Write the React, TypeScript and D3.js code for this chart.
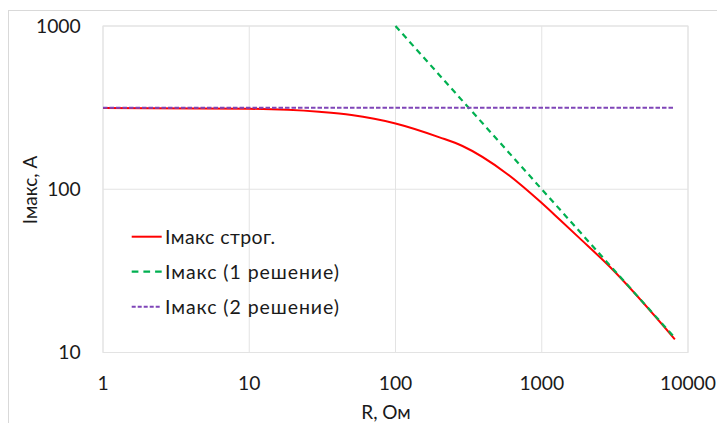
import React from "react";
import * as d3 from "d3";

// Resistance values (Ohm) and current values (A)
const strictR = [1, 10, 30, 50, 100, 200, 287, 574, 970, 1330, 1820, 2920, 8130];
const strictI = [315, 311, 298, 285, 253, 208, 184, 125, 84.3, 65, 50, 33.5, 12.05];

const sol1R = [100, 300, 1000, 3000, 8130];
const sol1I = [1000, 333, 100, 33.3, 12.3];

const sol2R = [1, 10, 100, 1000, 8130];
const sol2I = [316, 316, 316, 316, 316];

const xTicks = [1, 10, 100, 1000, 10000];
const yTicks = [10, 100, 1000];

const legendLabels = ["Імакс строг.", "Імакс (1 решение)", "Імакс (2 решение)"];
const legendWidths = [110, 174, 174];

const W = 717;
const H = 423;
const left = 103;
const right = 688;
const top = 26;
const bottom = 352.5;

const FONT = "Lato, 'Open Sans', sans-serif";

export default function App() {
  const x = d3.scaleLog().domain([1, 10000]).range([left, right]);
  const y = d3.scaleLog().domain([10, 1000]).range([bottom, top]);

  const line = d3
    .line<[number, number]>()
    .x((d) => x(d[0]))
    .y((d) => y(d[1]));

  const smooth = d3
    .line<[number, number]>()
    .x((d) => x(d[0]))
    .y((d) => y(d[1]))
    .curve(d3.curveMonotoneX);

  const zip = (a: number[], b: number[]) => a.map((v, i) => [v, b[i]] as [number, number]);

  const series = [
    { data: zip(strictR, strictI), color: "#FF0000", width: 2, dash: undefined as string | undefined, gen: smooth },
    { data: zip(sol1R, sol1I), color: "#00B050", width: 2.2, dash: "6,4.5", gen: line },
    { data: zip(sol2R, sol2I), color: "#7F45B8", width: 2, dash: "4.5,2", gen: line },
  ];

  const legendY = [236.7, 271.7, 306.7];

  return (
    <svg
      width={W}
      height={H}
      style={{ position: "absolute", left: 0, top: 0, background: "#fff" }}
      fontFamily={FONT}
    >
      <rect x={8.5} y={10.5} width={W + 10} height={H + 10} fill="#fff" stroke="#d9d9d9" />

      {/* grid */}
      {xTicks.map((t) => (
        <line key={"gx" + t} x1={x(t)} x2={x(t)} y1={top} y2={bottom} stroke="#e3e3e3" strokeWidth={1} />
      ))}
      {yTicks.map((t) => (
        <line key={"gy" + t} x1={left} x2={right} y1={y(t)} y2={y(t)} stroke="#e3e3e3" strokeWidth={1} />
      ))}
      <rect x={left} y={top} width={right - left} height={bottom - top} fill="none" stroke="#e3e3e3" />

      {/* tick labels */}
      {yTicks.map((t) => (
        <text key={"ty" + t} x={80.7} y={y(t)} dy="0.35em" textAnchor="end" fontSize={19.3} fill="#1a1a1a">
          {t}
        </text>
      ))}
      {xTicks.map((t) => (
        <text key={"tx" + t} x={x(t)} y={383.5} dy="0.35em" textAnchor="middle" fontSize={19.3} fill="#1a1a1a">
          {t}
        </text>
      ))}

      {/* axis titles */}
      <text x={386} y={412} dy="0.35em" textAnchor="middle" fontSize={19} fill="#1a1a1a">
        R, Ом
      </text>
      <text
        transform={`translate(30,190) rotate(-90)`}
        dy="0.35em"
        textAnchor="middle"
        fontSize={19}
        fill="#1a1a1a"
      >
        Імакс, А
      </text>

      {/* series */}
      {series.map((s, i) => (
        <path
          key={"s" + i}
          d={s.gen(s.data) || ""}
          fill="none"
          stroke={s.color}
          strokeWidth={s.width}
          strokeDasharray={s.dash}
        />
      ))}

      {/* legend */}
      {series.map((s, i) => (
        <g key={"lg" + i}>
          <line
            x1={131.7}
            x2={161.7}
            y1={legendY[i]}
            y2={legendY[i]}
            stroke={s.color}
            strokeWidth={s.width}
            strokeDasharray={i === 1 ? "6.7,5" : i === 2 ? "4,2" : undefined}
          />
          <text
            x={165}
            y={legendY[i]}
            dy="0.35em"
            fontSize={19.5}
            fill="#1a1a1a"
            textLength={legendWidths[i]}
            lengthAdjust="spacing"
          >
            {legendLabels[i]}
          </text>
        </g>
      ))}
    </svg>
  );
}
